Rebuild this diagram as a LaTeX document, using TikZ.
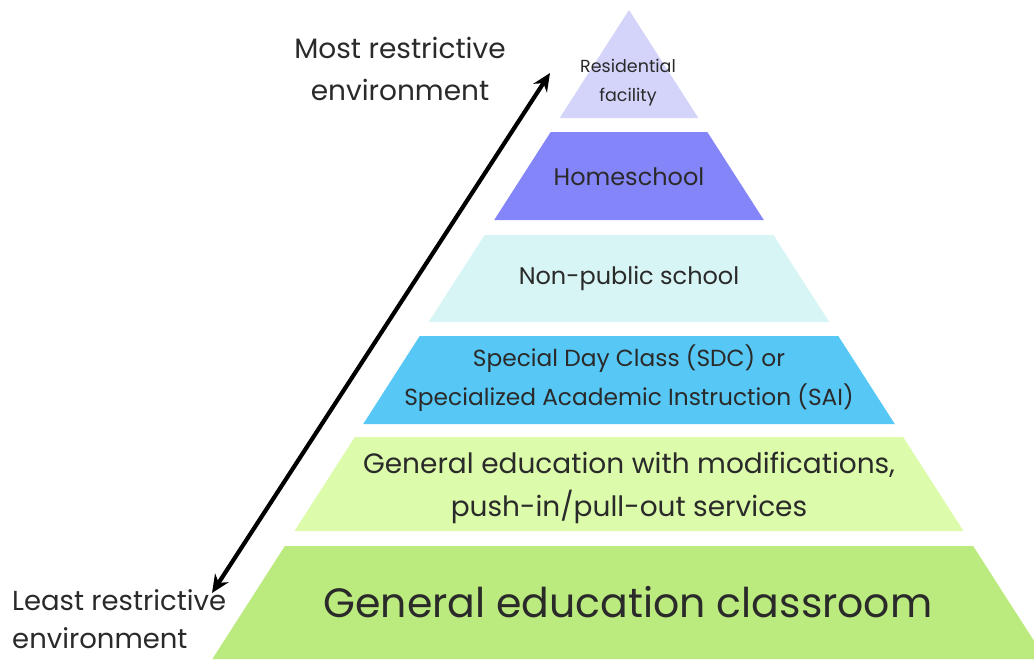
\documentclass[tikz,border=0pt]{standalone}
\usepackage{fontspec}
\setmainfont{Poppins}
\usetikzlibrary{arrows.meta}
\definecolor{residC}{HTML}{D4D4FB}
\definecolor{homeC}{HTML}{8585FA}
\definecolor{npsC}{HTML}{D8F5F5}
\definecolor{sdcC}{HTML}{57C8F5}
\definecolor{modC}{HTML}{DCFBAB}
\definecolor{genC}{HTML}{BBEA7E}
\definecolor{txtC}{HTML}{2A2A2A}
\tikzset{lbl/.style={text=txtC, align=center, inner sep=0pt}}

\begin{document}
\begin{tikzpicture}[x=1pt,y=-1pt]
\def\cx{629}
\def\ay{10}
\def\sl{0.642}

\useasboundingbox (0,0) rectangle (1034,659);
\clip (0,0) rectangle (1034,659);
% layers of the pyramid, top to bottom
\foreach \t/\b/\c in {10/118/residC,132/220/homeC,235/322/npsC,336/424/sdcC,437/531/modC,546/659/genC}
{
	\fill[\c] ({\cx-\sl*(\t-\ay)},\t) -- ({\cx+\sl*(\t-\ay)},\t)
	-- ({\cx+\sl*(\b-\ay)},\b) -- ({\cx-\sl*(\b-\ay)},\b) -- cycle;
}

\node[lbl, font=\fontsize{17.5}{29}\selectfont] (resid) at (628,83) {Residential\\facility};
\node[lbl, font=\fontsize{24}{26}\selectfont] (home) at (629,177) {Homeschool};
\node[lbl, font=\fontsize{24}{26}\selectfont] (nps) at (629,278) {Non-public school};
\node[lbl, font=\fontsize{23.3}{39}\selectfont] (sdc) at (629,378) {Special Day Class (SDC) or\\Specialized Academic Instruction (SAI)};
\node[lbl, font=\fontsize{28}{43}\selectfont] (mod) at (629,488) {General education with modifications,\\push-in/pull-out services};
\node[lbl, font=\fontsize{41}{43}\selectfont] (gen) at (628,602) {General education classroom};

\node[lbl, font=\fontsize{28}{42}\selectfont] (most) at (400,69) {Most restrictive\\environment};
\node[lbl, align=left, anchor=west, font=\fontsize{27.5}{38}\selectfont] (least) at (12,619) {Least restrictive\\environment};

\coordinate (up) at (550,73);
\coordinate (down) at (212,593);
\draw[{Stealth[length=18pt,width=16pt]}-{Stealth[length=18pt,width=16pt]}, line width=4.2pt] (down) -- (up);
\end{tikzpicture}
\end{document}
